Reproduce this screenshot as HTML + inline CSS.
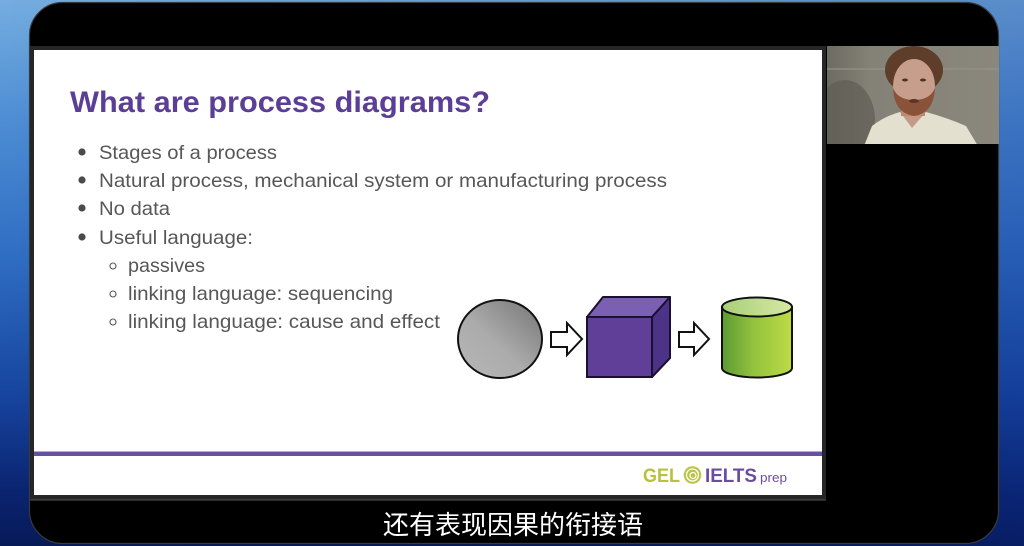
<!DOCTYPE html>
<html>
<head>
<meta charset="utf-8">
<style>
  html, body { margin:0; padding:0; }
  body { width:1024px; height:546px; overflow:hidden; position:relative;
    background: linear-gradient(180deg, #74ade0 0%, #4d8dd4 22%, #2e6cc2 48%, #17459f 72%, #0a2470 90%, #071a58 100%); }
  svg { position:absolute; left:0; top:0; }
  .sans { font-family: "Liberation Sans", "DejaVu Sans", sans-serif; }
  .cjk { font-family: "Liberation Sans", "Noto Sans CJK SC", "WenQuanYi Zen Hei", sans-serif; }
</style>
</head>
<body>
<svg width="1024" height="546" viewBox="0 0 1024 546" xmlns="http://www.w3.org/2000/svg">
  <defs>
    <linearGradient id="rightShade" x1="0" y1="0" x2="1" y2="0">
      <stop offset="0" stop-color="#000" stop-opacity="0"/>
      <stop offset="1" stop-color="#0a2a8a" stop-opacity="0.25"/>
    </linearGradient>
    <linearGradient id="sphere" x1="1" y1="0" x2="0" y2="1">
      <stop offset="0" stop-color="#757575"/>
      <stop offset="0.55" stop-color="#ababab"/>
      <stop offset="1" stop-color="#b8b8b8"/>
    </linearGradient>
    <linearGradient id="cyl" x1="0" y1="0" x2="1" y2="0">
      <stop offset="0" stop-color="#5d9a33"/>
      <stop offset="0.45" stop-color="#93c23d"/>
      <stop offset="1" stop-color="#bedb47"/>
    </linearGradient>
    <linearGradient id="cyltop" x1="0" y1="0" x2="1" y2="0">
      <stop offset="0" stop-color="#a9cf78"/>
      <stop offset="1" stop-color="#d6e8a4"/>
    </linearGradient>
    <linearGradient id="wall" x1="0" y1="0" x2="1" y2="0">
      <stop offset="0" stop-color="#6d6b62"/>
      <stop offset="0.25" stop-color="#848177"/>
      <stop offset="1" stop-color="#8a877d"/>
    </linearGradient>
    <clipPath id="camclip"><rect x="827" y="46" width="172" height="98"/></clipPath>
  </defs>

  <!-- right-side tint of background -->
  <rect x="0" y="0" width="1024" height="546" fill="url(#rightShade)"/>

  <!-- black device frame -->
  <rect x="29.5" y="2.5" width="969" height="541" rx="33" ry="33" fill="#000" stroke="#3a3a3a" stroke-width="1.2"/>

  <!-- slide frame -->
  <rect x="30" y="46" width="796" height="454" fill="#262626"/>
  <line x1="30" y1="500" x2="826" y2="500" stroke="#555" stroke-width="1"/>
  <rect x="34" y="50" width="788" height="445" fill="#ffffff"/>

  <!-- title -->
  <text class="sans" x="70" y="112" font-size="30" font-weight="bold" fill="#5b3f96" textLength="420" lengthAdjust="spacingAndGlyphs">What are process diagrams?</text>

  <!-- bullets -->
  <g class="sans" font-size="19.5" fill="#575757">
    <circle cx="82" cy="152" r="3.6" fill="#4a4a4a"/>
    <text x="99" y="159" textLength="178" lengthAdjust="spacingAndGlyphs">Stages of a process</text>
    <circle cx="82" cy="180" r="3.6" fill="#4a4a4a"/>
    <text x="99" y="187" textLength="568" lengthAdjust="spacingAndGlyphs">Natural process, mechanical system or manufacturing process</text>
    <circle cx="82" cy="208" r="3.6" fill="#4a4a4a"/>
    <text x="99" y="215" textLength="71" lengthAdjust="spacingAndGlyphs">No data</text>
    <circle cx="82" cy="237" r="3.6" fill="#4a4a4a"/>
    <text x="99" y="244" textLength="154" lengthAdjust="spacingAndGlyphs">Useful language:</text>

    <circle cx="113" cy="266" r="3" fill="none" stroke="#555" stroke-width="1.1"/>
    <text x="128" y="272" textLength="77" lengthAdjust="spacingAndGlyphs">passives</text>
    <circle cx="113" cy="294" r="3" fill="none" stroke="#555" stroke-width="1.1"/>
    <text x="128" y="300" textLength="265" lengthAdjust="spacingAndGlyphs">linking language: sequencing</text>
    <circle cx="113" cy="322" r="3" fill="none" stroke="#555" stroke-width="1.1"/>
    <text x="128" y="328" textLength="312" lengthAdjust="spacingAndGlyphs">linking language: cause and effect</text>
  </g>

  <!-- diagram: sphere -->
  <ellipse cx="500" cy="339" rx="42" ry="39" fill="url(#sphere)" stroke="#111" stroke-width="2"/>

  <!-- arrow 1 -->
  <path d="M551 332 H567 V323 L582 339 L567 355 V347 H551 Z" fill="#fff" stroke="#111" stroke-width="2" stroke-linejoin="miter"/>

  <!-- cube -->
  <polygon points="587,317 603,297 670,297 652,317" fill="#7a5fb2" stroke="#1a1030" stroke-width="2" stroke-linejoin="round"/>
  <polygon points="652,317 670,297 670,358 652,377" fill="#4d3388" stroke="#1a1030" stroke-width="2" stroke-linejoin="round"/>
  <rect x="587" y="317" width="65" height="60" fill="#5f3f98" stroke="#1a1030" stroke-width="2"/>

  <!-- arrow 2 -->
  <path d="M679 332 H694 V323 L709 339 L694 355 V347 H679 Z" fill="#fff" stroke="#111" stroke-width="2" stroke-linejoin="miter"/>

  <!-- cylinder -->
  <path d="M722 307 V368 A35 9.5 0 0 0 792 368 V307 Z" fill="url(#cyl)" stroke="#111" stroke-width="2"/>
  <ellipse cx="757" cy="307" rx="35" ry="9.5" fill="url(#cyltop)" stroke="#111" stroke-width="2"/>

  <!-- purple footer line -->
  <rect x="34" y="452" width="788" height="4" fill="#6550a2"/>
  <rect x="34" y="451" width="788" height="1" fill="#b8acd6"/>

  <!-- logo -->
  <text class="sans" x="643" y="482" font-size="19" font-weight="bold" fill="#b8c13c" textLength="37" lengthAdjust="spacingAndGlyphs">GEL</text>
  <circle cx="692.5" cy="475" r="8.8" fill="#bcc444"/>
  <circle cx="692.5" cy="475" r="6" fill="none" stroke="#fff" stroke-width="1.3"/>
  <circle cx="693" cy="475.5" r="3" fill="none" stroke="#fff" stroke-width="1.2"/>
  <text class="sans" x="705" y="482" font-size="19" font-weight="bold" fill="#6a4da3" textLength="52" lengthAdjust="spacingAndGlyphs">IELTS</text>
  <text class="sans" x="760" y="482" font-size="13" fill="#6a4da3" textLength="27" lengthAdjust="spacingAndGlyphs">prep</text>

  <!-- webcam -->
  <g clip-path="url(#camclip)">
    <rect x="827" y="46" width="172" height="98" fill="url(#wall)"/>
    <rect x="827" y="68" width="172" height="2" fill="#96938a" opacity="0.6"/>
    <ellipse cx="845" cy="120" rx="30" ry="40" fill="#5e5c54" opacity="0.7"/>
    <!-- shirt -->
    <path d="M864 146 L872 126 Q885 116 900 112 L912 120 L926 112 Q948 118 966 126 L978 146 Z" fill="#e4e0d0"/>
    <path d="M900 112 L912 128 L926 112 Z" fill="#c49a86"/>
    <!-- neck -->
    <rect x="901" y="100" width="24" height="16" fill="#b88a74"/>
    <!-- hair -->
    <ellipse cx="914" cy="70" rx="29" ry="24" fill="#5e3d2a"/>
    <!-- face -->
    <ellipse cx="914" cy="86" rx="21" ry="27" fill="#c79e8c"/>
    <!-- beard -->
    <path d="M893 88 Q894 113 914 116 Q934 113 935 88 Q930 100 914 100 Q898 100 893 88 Z" fill="#8a5238"/>
    <ellipse cx="914" cy="101" rx="5" ry="2" fill="#5e3428"/>
    <!-- eyes -->
    <ellipse cx="905" cy="80" rx="3" ry="1.5" fill="#4a3228"/>
    <ellipse cx="923" cy="80" rx="3" ry="1.5" fill="#4a3228"/>
  </g>

  <!-- subtitle -->
  <text class="cjk" x="383" y="534" font-size="26" fill="#ffffff" textLength="260" lengthAdjust="spacingAndGlyphs">还有表现因果的衔接语</text>
</svg>
</body>
</html>
